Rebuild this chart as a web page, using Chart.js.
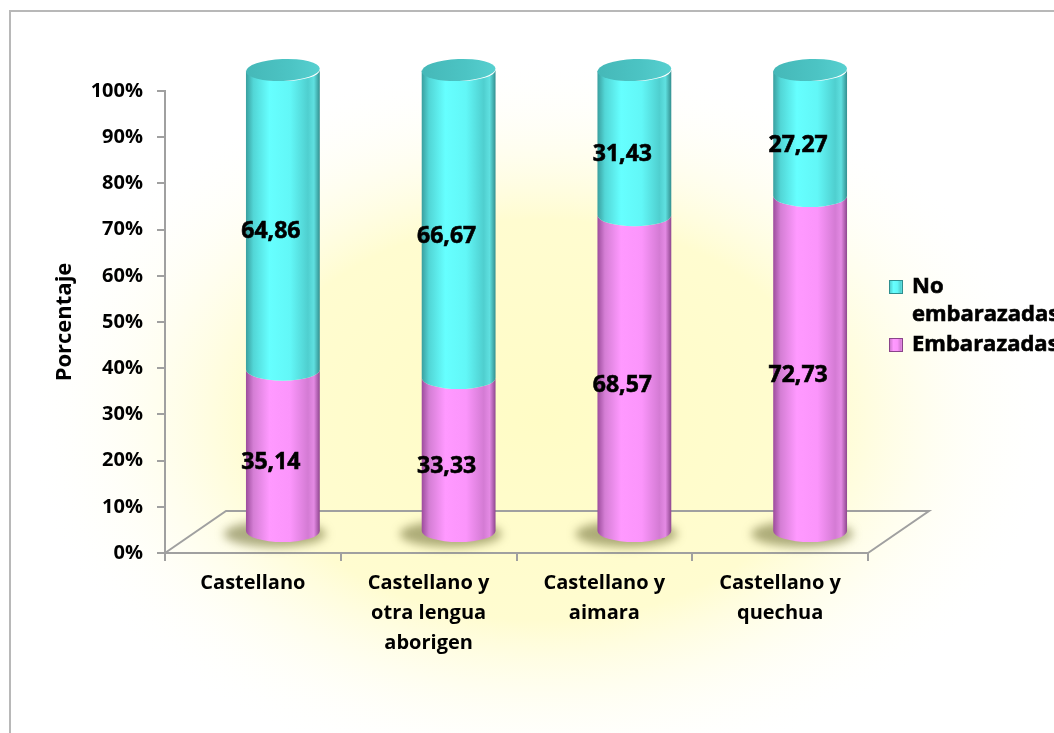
<!DOCTYPE html>
<html>
<head>
<meta charset="utf-8">
<script src="https://cdn.jsdelivr.net/npm/chart.js@4.4.1/dist/chart.umd.min.js"></script>
<style>
  html, body { margin: 0; padding: 0; background: #fff; }
  #wrap { width: 1054px; height: 733px; overflow: hidden; }
</style>
</head>
<body>
<div id="wrap"><canvas id="chart" width="1054" height="733"></canvas></div>
<script>
const categories = [
    'Castellano',
    ['Castellano y', 'otra lengua', 'aborigen'],
    ['Castellano y', 'aimara'],
    ['Castellano y', 'quechua']
];
const embarazadas = [35.14, 33.33, 68.57, 72.73];
const noEmbarazadas = [64.86, 66.67, 31.43, 27.27];
const seriesNames = ['Embarazadas', 'No embarazadas'];

const FONT = '"Open Sans", "DejaVu Sans", sans-serif';

// cylinder shading, left to right
const cyanStops = [[0, '#3a9f9f'], [0.1, '#52d6d6'], [0.32, '#66ffff'], [0.6, '#62f7f7'], [0.84, '#4fcfcf'], [0.92, '#5fe0e0'], [1, '#338f8f']];
const pinkStops = [[0, '#9c4c9c'], [0.1, '#d47ed4'], [0.32, '#ff99ff'], [0.6, '#fb95fb'], [0.84, '#d47bd4'], [0.92, '#e48ae4'], [1, '#8e468e']];
const capCyan = '#4cc4c4';

// depth of the floor and where the bars sit in it
const depth = { dx: 61, dy: -42 };
const mid = { dx: 30, dy: -21 };

function fmt(v) {
    return v.toFixed(2).replace('.', ',');
}

function gradient(ctx, x0, x1, stops) {
    const g = ctx.createLinearGradient(x0, 0, x1, 0);
    stops.forEach(s => g.addColorStop(s[0], s[1]));
    return g;
}

function drawSegment(ctx, cx, top, bottom, rx, ry, stops) {
    ctx.beginPath();
    ctx.moveTo(cx - rx, top);
    ctx.lineTo(cx - rx, bottom);
    ctx.ellipse(cx, bottom, rx, ry, 0, Math.PI, 0, true);
    ctx.lineTo(cx + rx, top);
    ctx.ellipse(cx, top, rx, ry, 0, 0, Math.PI, false);
    ctx.closePath();
    ctx.fillStyle = gradient(ctx, cx - rx, cx + rx, stops);
    ctx.fill();
}

// bold text with a hairline outline so it reads as heavy as the labels around it
function heavyText(ctx, text, x, y) {
    ctx.lineWidth = 0.6;
    ctx.strokeStyle = '#000';
    ctx.strokeText(text, x, y);
    ctx.fillText(text, x, y);
}

const backgroundPlugin = {
    id: 'background',
    beforeDraw(chart) {
        const ctx = chart.ctx;
        const w = chart.width, h = chart.height;
        ctx.save();
        ctx.fillStyle = '#ffffff';
        ctx.fillRect(0, 0, w, h);
        // soft yellow glow behind the plot
        ctx.translate(540, 420);
        ctx.scale(1, 0.7);
        const g = ctx.createRadialGradient(0, 0, 0, 0, 0, 520);
        g.addColorStop(0, '#fffcc6');
        g.addColorStop(0.55, '#fffcd0');
        g.addColorStop(1, 'rgba(255,255,255,0)');
        ctx.fillStyle = g;
        ctx.fillRect(-600, -700, 1200, 1400);
        ctx.restore();
        // chart frame
        ctx.save();
        ctx.strokeStyle = '#b8b8b8';
        ctx.lineWidth = 2;
        ctx.strokeRect(10, 11, w + 20, h + 20);
        ctx.restore();
    }
};

const cylinderPlugin = {
    id: 'cylinders',
    beforeDatasetsDraw(chart) {
        const ctx = chart.ctx;
        const area = chart.chartArea;
        ctx.save();

        // floor
        ctx.strokeStyle = '#a0a0a0';
        ctx.lineWidth = 2;
        ctx.beginPath();
        ctx.moveTo(area.left, area.bottom);
        ctx.lineTo(area.left + depth.dx, area.bottom + depth.dy);
        ctx.lineTo(area.right + depth.dx, area.bottom + depth.dy);
        ctx.lineTo(area.right, area.bottom);
        ctx.stroke();

        const lower = chart.getDatasetMeta(0).data;
        const upper = chart.getDatasetMeta(1).data;

        // shadows on the floor
        lower.forEach(el => {
            const cx = el.x + mid.dx;
            const base = el.base + mid.dy;
            const rx = el.width / 2;
            ctx.save();
            ctx.filter = 'blur(5px)';
            ctx.fillStyle = 'rgba(105,105,50,0.55)';
            ctx.beginPath();
            ctx.ellipse(cx - 8, base + 3, rx + 14, 13, 0, 0, Math.PI * 2);
            ctx.fill();
            ctx.restore();
        });

        lower.forEach((el, i) => {
            const cx = el.x + mid.dx;
            const rx = el.width / 2;
            const ry = 11;
            const top = upper[i];
            drawSegment(ctx, cx, el.y + mid.dy, el.base + mid.dy, rx, ry, pinkStops);
            drawSegment(ctx, cx, top.y + mid.dy, top.base + mid.dy, rx, ry, cyanStops);
            // top cap
            const capY = top.y + mid.dy;
            const cg = ctx.createLinearGradient(cx - rx, capY, cx + rx, capY);
            cg.addColorStop(0, '#45b8b8');
            cg.addColorStop(0.6, capCyan);
            cg.addColorStop(1, '#57d0d0');
            ctx.fillStyle = cg;
            ctx.beginPath();
            ctx.ellipse(cx, capY, rx, ry, -0.04, 0, Math.PI * 2);
            ctx.fill();
        });

        // value labels
        ctx.fillStyle = '#000';
        ctx.font = 'bold 23px ' + FONT;
        ctx.textAlign = 'center';
        ctx.textBaseline = 'middle';
        [lower, upper].forEach((els, d) => {
            const values = chart.data.datasets[d].data;
            els.forEach((el, i) => {
                const x = el.x + mid.dx - 12;
                const y = (el.y + el.base) / 2 + mid.dy + 12;
                heavyText(ctx, fmt(values[i]), x, y);
            });
        });

        ctx.restore();
        return false;
    }
};

function wrapWords(ctx, text, maxWidth) {
    const words = text.split(' ');
    const lines = [];
    let line = '';
    words.forEach(w => {
        const test = line ? line + ' ' + w : w;
        if (line && ctx.measureText(test).width > maxWidth) {
            lines.push(line);
            line = w;
        } else {
            line = test;
        }
    });
    lines.push(line);
    return lines;
}

const legendPlugin = {
    id: 'sideLegend',
    afterDraw(chart) {
        const ctx = chart.ctx;
        const x = 889, textX = 912;
        let y = 287;
        ctx.save();
        ctx.font = 'bold 22px ' + FONT;
        ctx.textBaseline = 'middle';
        ctx.textAlign = 'left';
        const entries = [
            { name: seriesNames[1], stops: cyanStops, edge: '#2f8f8f' },
            { name: seriesNames[0], stops: pinkStops, edge: '#8a448a' }
        ];
        entries.forEach(e => {
            ctx.fillStyle = gradient(ctx, x, x + 14, e.stops);
            ctx.fillRect(x, y - 7, 14, 14);
            ctx.strokeStyle = e.edge;
            ctx.lineWidth = 1;
            ctx.strokeRect(x + 0.5, y - 6.5, 13, 13);
            const lines = wrapWords(ctx, e.name, chart.width - textX - 2);
            ctx.fillStyle = '#000';
            lines.forEach((l, k) => heavyText(ctx, l, textX, y + k * 28));
            y += lines.length * 28 + 2;
        });
        ctx.restore();
    }
};

new Chart(document.getElementById('chart'), {
    type: 'bar',
    data: {
        labels: categories,
        datasets: [
            { label: seriesNames[0], data: embarazadas, backgroundColor: '#ff99ff' },
            { label: seriesNames[1], data: noEmbarazadas, backgroundColor: '#66ffff' }
        ]
    },
    options: {
        responsive: false,
        animation: false,
        layout: { padding: { left: 10, right: 186, top: 91, bottom: 60 } },
        datasets: { bar: { barPercentage: 0.42, categoryPercentage: 1 } },
        plugins: {
            legend: { display: false },
            tooltip: { enabled: false }
        },
        scales: {
            x: {
                stacked: true,
                afterFit(scale) { scale.height = 120; },
                border: { color: '#a0a0a0', width: 2 },
                grid: { drawOnChartArea: false, color: '#a0a0a0', lineWidth: 2, tickLength: 8 },
                ticks: {
                    color: '#000',
                    padding: 7,
                    maxRotation: 0,
                    autoSkip: false,
                    font: { family: FONT, size: 20, weight: 'bold', lineHeight: 1.5 }
                }
            },
            y: {
                stacked: true,
                min: 0,
                max: 100,
                afterFit(scale) { scale.width = 155; },
                border: { color: '#a0a0a0', width: 2 },
                grid: { drawOnChartArea: false, color: '#a0a0a0', lineWidth: 2, tickLength: 8 },
                ticks: {
                    stepSize: 10,
                    color: '#000',
                    padding: 14,
                    callback: v => v + '%',
                    font: { family: FONT, size: 20, weight: 'bold' }
                },
                title: {
                    display: true,
                    text: 'Porcentaje',
                    color: '#000',
                    padding: { top: 42, bottom: 0 },
                    font: { family: FONT, size: 22, weight: 'bold' }
                }
            }
        }
    },
    plugins: [backgroundPlugin, cylinderPlugin, legendPlugin]
});
</script>
</body>
</html>
